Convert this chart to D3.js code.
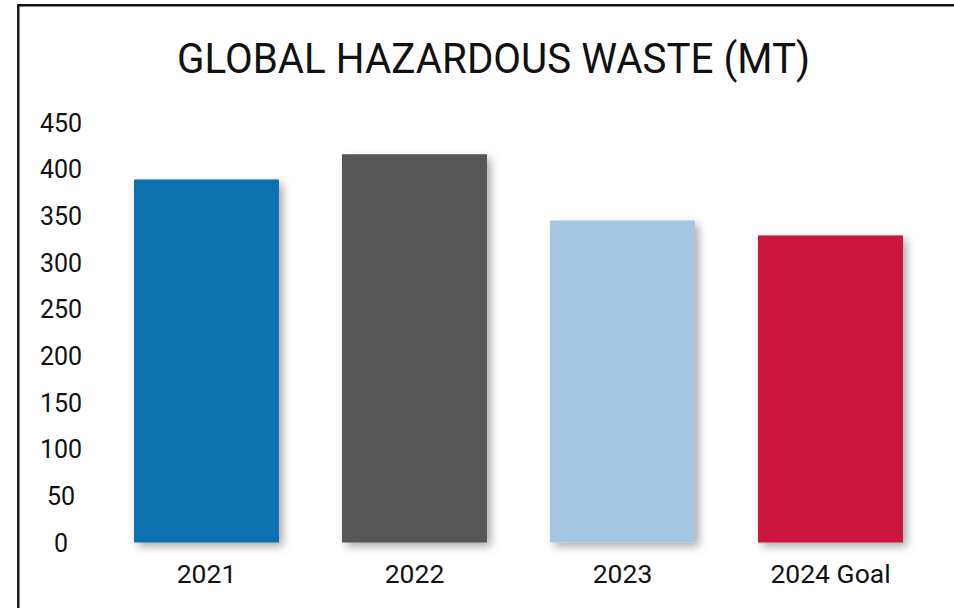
<!DOCTYPE html>
<html>
<head>
<meta charset="utf-8">
<script src="https://cdn.jsdelivr.net/npm/d3@7"></script>
<style>
  html, body { margin: 0; padding: 0; background: #fff; }
  svg { display: block; font-family: Roboto, "DejaVu Sans", sans-serif; }
</style>
</head>
<body>
<svg id="chart" width="954" height="608"></svg>
<script>
// chart data
const categories = ["2021", "2022", "2023", "2024 Goal"];
const values = [389, 416, 345, 329];
const yTicks = [0, 50, 100, 150, 200, 250, 300, 350, 400, 450];
const title = "GLOBAL HAZARDOUS WASTE (MT)";

const barColors = ["#0e71b0", "#575757", "#a3c6e3", "#cb163d"];

const svg = d3.select("#chart");

// soft drop shadow under bars
const defs = svg.append("defs");
defs.append("filter")
  .attr("id", "shadow")
  .attr("x", "-20%").attr("y", "-20%")
  .attr("width", "140%").attr("height", "140%")
  .append("feDropShadow")
  .attr("dx", 4)
  .attr("dy", 4)
  .attr("stdDeviation", 4)
  .attr("flood-color", "#000")
  .attr("flood-opacity", 0.32);

// frame (top + left only)
svg.append("path")
  .attr("d", "M18.3,608 V5.2 H954")
  .attr("fill", "none")
  .attr("stroke", "#111")
  .attr("stroke-width", 2.4);

svg.append("text")
  .attr("x", 493.5)
  .attr("y", 73)
  .attr("text-anchor", "middle")
  .attr("font-size", 42)
  .attr("textLength", 633)
  .attr("lengthAdjust", "spacingAndGlyphs")
  .attr("fill", "#111")
  .text(title);

const y = d3.scaleLinear().domain([0, 450]).range([542.5, 122.5]);
const x = d3.scaleBand()
  .domain(categories)
  .range([102.8, 934.2])
  .paddingInner(0.303)
  .paddingOuter(0.15);
const color = d3.scaleOrdinal().domain(categories).range(barColors);

// y axis, labels centred in the left gutter
const yAxis = svg.append("g")
  .attr("transform", "translate(61,0)")
  .call(d3.axisLeft(y).tickValues(yTicks).tickSize(0).tickPadding(0));
yAxis.select(".domain").remove();
yAxis.selectAll("text")
  .attr("text-anchor", "middle")
  .attr("x", 0)
  .attr("dy", "0.35em")
  .attr("font-size", 25)
  .attr("font-family", "Roboto, sans-serif")
  .attr("fill", "#111");

svg.append("g")
  .selectAll("rect")
  .data(categories)
  .join("rect")
  .attr("x", d => x(d))
  .attr("y", (d, i) => y(values[i]))
  .attr("width", x.bandwidth())
  .attr("height", (d, i) => y(0) - y(values[i]))
  .attr("fill", d => color(d))
  .attr("filter", "url(#shadow)");

const xAxis = svg.append("g")
  .attr("transform", `translate(0,${y(0)})`)
  .call(d3.axisBottom(x).tickSize(0).tickPadding(0));
xAxis.select(".domain").remove();
xAxis.selectAll("text")
  .attr("y", 31)
  .attr("dy", "0.35em")
  .attr("font-size", 26.5)
  .attr("font-family", "Roboto, sans-serif")
  .attr("fill", "#111");
</script>
</body>
</html>
